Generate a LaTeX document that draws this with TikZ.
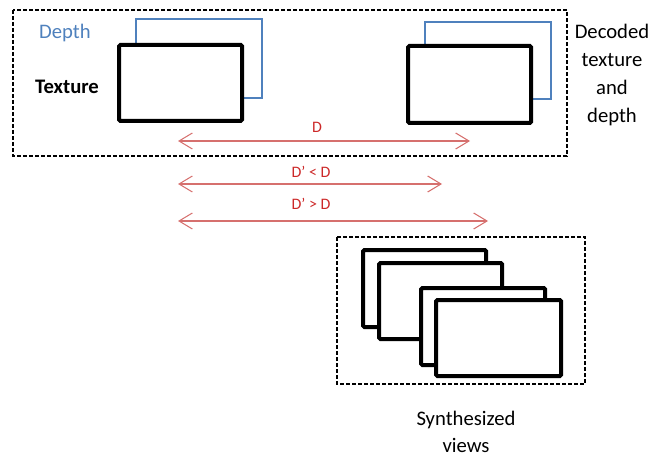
\documentclass[tikz,border=0pt]{standalone}
\usepackage{fontspec}
\setmainfont{Carlito}
\usepackage{tikz}
\usetikzlibrary{arrows.meta,positioning}
\definecolor{depthblue}{RGB}{79,129,189}
\definecolor{arrowred}{RGB}{214,112,110}
\definecolor{labelred}{RGB}{204,40,40}

\begin{document}
\begin{tikzpicture}[x=0.75pt, y=-0.75pt,
  frame/.style={line width=3pt, rounded corners=1pt, fill=white},
  depthframe/.style={draw=depthblue, line width=1.1pt},
  group/.style={line width=1.1pt, dash pattern=on 3pt off 1.5pt},
  lbl/.style={font=\fontsize{15.5}{21}\selectfont, inner sep=0pt, align=center},
  dist/.style={draw=arrowred, line width=0.8pt, {Straight Barb[length=10pt,width=12pt]}-{Straight Barb[length=10pt,width=12pt]}},
  distlbl/.style={text=labelred, font=\fontsize{12}{14}\selectfont, inner sep=0pt}]
\useasboundingbox (0,0) rectangle (667,456);
%decoded texture and depth
\draw[group] (13,10) rectangle (567,156);
\draw[depthframe] (136,19) rectangle (262,98);
\draw[frame] (119,45) rectangle (242,121);
\draw[depthframe] (425,22) rectangle (551,99);
\draw[frame] (408,46) rectangle (531,123);
\path (65,33) node[lbl, text=depthblue] (depth) {Depth};
\path (67,87) node[lbl, font=\fontsize{15.5}{21}\selectfont\bfseries] (texture) {Texture};
\path (612,75) node[lbl] (decoded) {Decoded\\texture\\and\\depth};

%distances
\coordinate (d0l) at (178,141);  \coordinate (d0r) at (470,141);
\coordinate (d1l) at (178,184);  \coordinate (d1r) at (442,184);
\coordinate (d2l) at (178,221);  \coordinate (d2r) at (488,221);
\draw[dist] (d0l) -- (d0r);
\draw[dist] (d1l) -- (d1r);
\draw[dist] (d2l) -- (d2r);
\path (317,127) node[distlbl] (dlbl) {D};
\path (311,172) node[distlbl] (dless) {D’ < D};
\path (311,204) node[distlbl] (dmore) {D’ > D};

%synthesized views
\draw[group] (337,237) rectangle (585,384);
\draw[frame] (363,250) rectangle (486,327);
\draw[frame] (379,263) rectangle (502,339);
\draw[frame] (421,288) rectangle (545,365);
\draw[frame] (436,300) rectangle (561,376);
\path (466,425) node[lbl, anchor=base] (synth) {Synthesized};
\path (466,452) node[lbl, anchor=base] (views) {views};
\end{tikzpicture}
\end{document}
